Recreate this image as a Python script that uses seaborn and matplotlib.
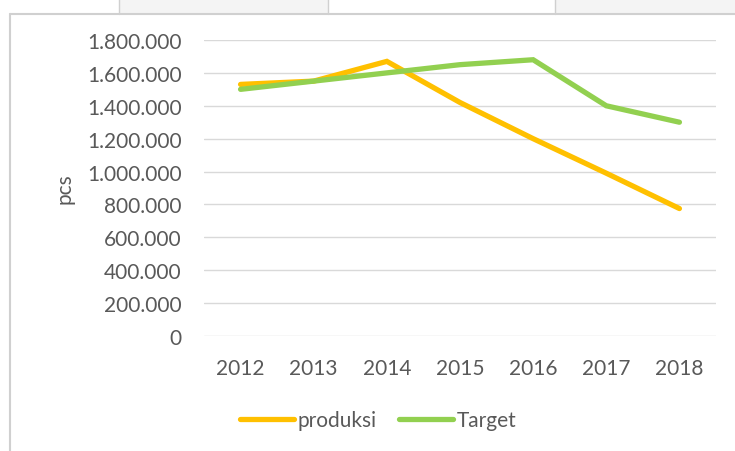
import matplotlib
matplotlib.use("Agg")
import matplotlib.pyplot as plt
import matplotlib.ticker as mticker
from matplotlib.lines import Line2D
from matplotlib.patches import Rectangle
import seaborn as sns
import pandas as pd

years = ["2012", "2013", "2014", "2015", "2016", "2017", "2018"]
produksi = [1530000, 1550000, 1670000, 1420000, 1200000, 990000, 775000]
target = [1500000, 1550000, 1600000, 1650000, 1680000, 1400000, 1300000]
series_names = ["produksi", "Target"]
colors = ["#FFC000", "#92D050"]
ylabel = "pcs"

sns.set_theme(style="white")
plt.rcParams["font.family"] = ["Lato", "DejaVu Sans"]

df = pd.DataFrame({
    "year": years * 2,
    "value": produksi + target,
    "series": [series_names[0]] * len(years) + [series_names[1]] * len(years),
})

W, H = 735, 452
fig = plt.figure(figsize=(7.35, 4.52), dpi=100)
ax = fig.add_axes([204 / W, 1 - 337 / H, (716 - 204) / W, (337 - 41) / H])

sns.lineplot(data=df, x="year", y="value", hue="series", palette=colors,
             linewidth=3.8, sort=False, ax=ax, legend=False)
for ln in ax.lines:
    ln.set_solid_capstyle("round")
    ln.set_solid_joinstyle("miter")

ax.set_xlim(-0.5, len(years) - 0.5)
ax.set_ylim(0, 1800000)
ax.yaxis.set_major_locator(mticker.MultipleLocator(200000))
ax.yaxis.set_major_formatter(mticker.FuncFormatter(lambda v, p: f"{int(v):,}".replace(",", ".")))
ax.grid(axis="y", color="#D9D9D9", linewidth=1.0)
ax.set_axisbelow(True)
for s in ax.spines.values():
    s.set_visible(False)
ax.tick_params(axis="both", length=0, labelsize=15, colors="#595959")
ax.tick_params(axis="y", pad=16)
ax.tick_params(axis="x", pad=16)
ax.set_xlabel("")
ax.set_ylabel(ylabel, fontsize=15, color="#595959", labelpad=9)

handles = [Line2D([0], [0], color=c, linewidth=3.8, solid_capstyle="round") for c in colors]
fig.legend(handles, series_names, loc="center", bbox_to_anchor=(378 / W, 1 - 421 / H),
           ncol=2, frameon=False, fontsize=15, labelcolor="#595959",
           handlelength=2.6, handletextpad=0.15, columnspacing=1.1)

# surrounding sheet decorations
gray = "#D0D0D0"
fig.patches.append(Rectangle((119 / W, 1 - 15 / H), (328 - 119) / W, 15 / H,
                             transform=fig.transFigure, facecolor="#F4F4F4", edgecolor="none", zorder=0))
fig.patches.append(Rectangle((555 / W, 1 - 15 / H), (735 - 555) / W, 15 / H,
                             transform=fig.transFigure, facecolor="#F4F4F4", edgecolor="none", zorder=0))
for xv in [119, 328, 555]:
    fig.lines.append(Line2D([xv / W, xv / W], [1 - 15 / H, 1], transform=fig.transFigure,
                            color=gray, linewidth=1))
fig.lines.append(Line2D([10 / W, 1], [1 - 15 / H, 1 - 15 / H], transform=fig.transFigure,
                        color=gray, linewidth=1.5))
fig.lines.append(Line2D([10 / W, 10 / W], [0, 1 - 15 / H], transform=fig.transFigure,
                        color=gray, linewidth=1.5))

fig.savefig("out.png", dpi=100)
